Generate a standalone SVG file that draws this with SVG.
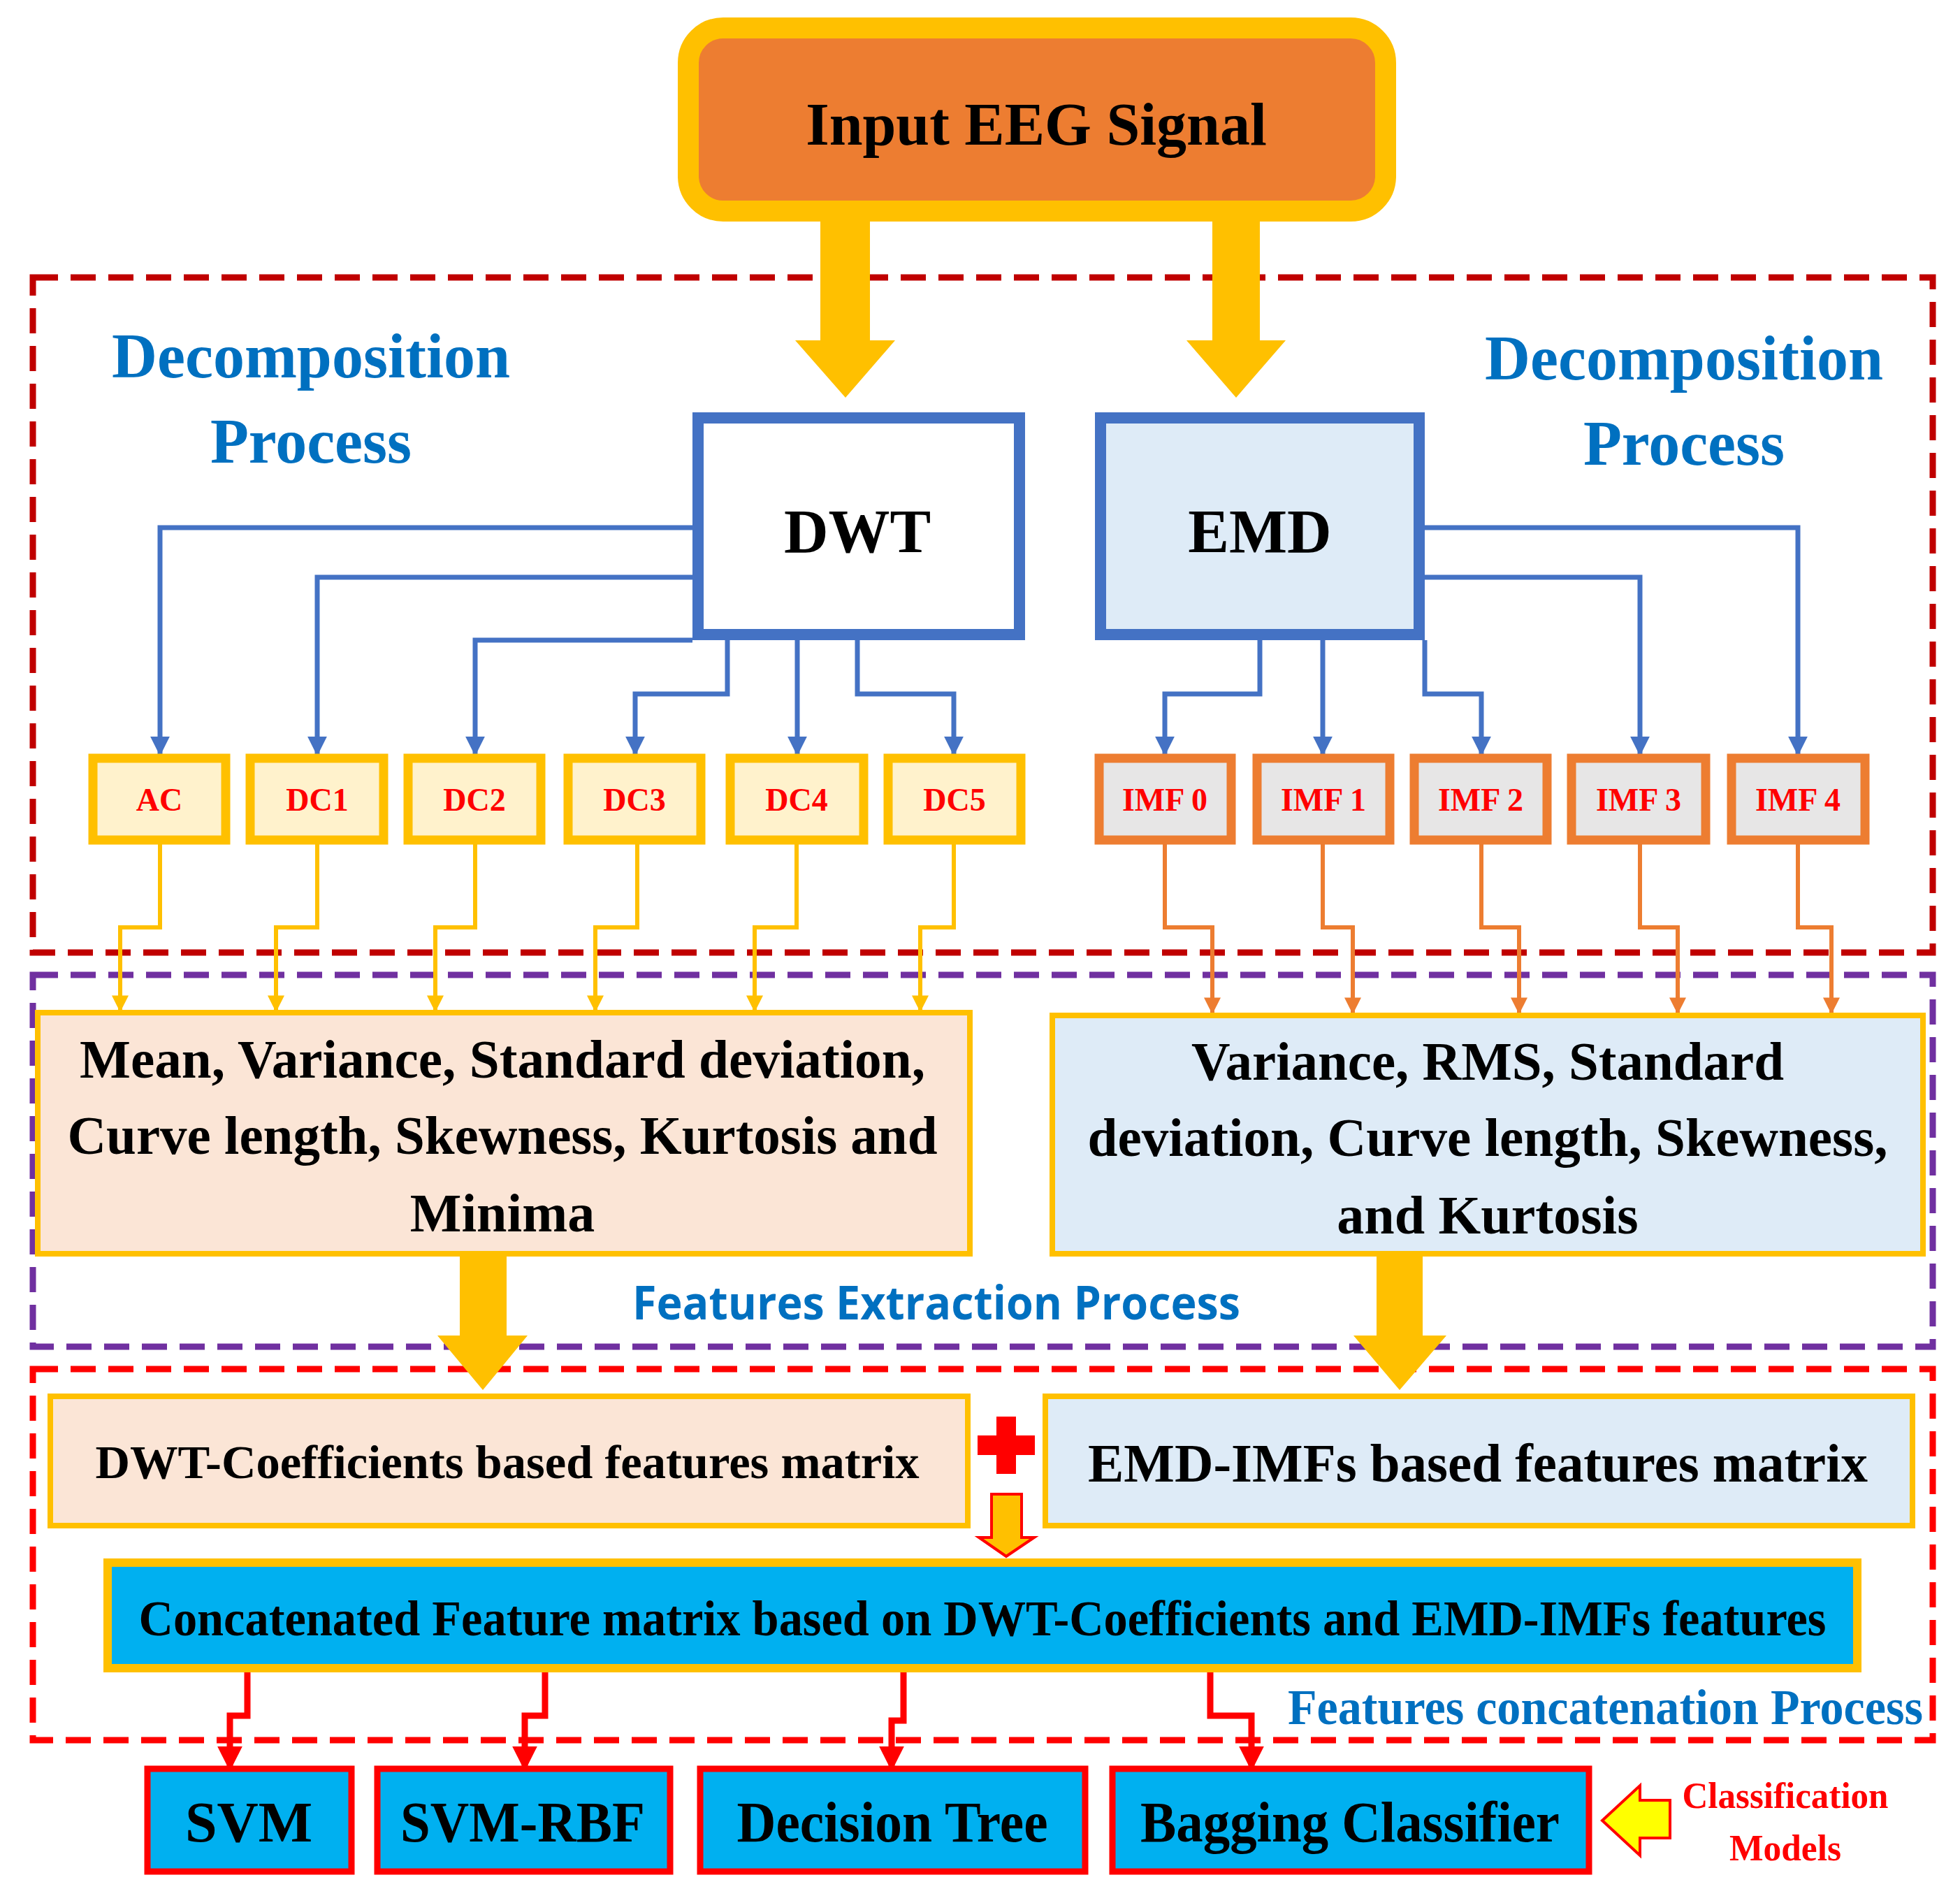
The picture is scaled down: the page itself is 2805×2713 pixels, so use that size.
<svg xmlns="http://www.w3.org/2000/svg" width="2805" height="2713" viewBox="0 0 2805 2713">
<defs>
<style>
.t{font-family:"Liberation Serif",serif;font-weight:bold;text-anchor:middle}
.blue{fill:none;stroke:#4472C4;stroke-width:7}
.ylw{fill:none;stroke:#FFC000;stroke-width:6}
.org{fill:none;stroke:#ED7D31;stroke-width:6}
.red{fill:none;stroke:#FF0000;stroke-width:9}
.dc{fill:#FFF2CC;stroke:#FFC000;stroke-width:13}
.imf{fill:#E7E6E6;stroke:#ED7D31;stroke-width:13}
.cls{fill:#00B0F0;stroke:#FF0000;stroke-width:9}
.lbl{font-size:46px;fill:#FF0000}
.big{fill:#FFC000}
</style>
<marker id="ab" viewBox="0 0 10 10" refX="9" refY="5" markerWidth="4" markerHeight="4" orient="auto"><path d="M0,0L10,5L0,10z" fill="#4472C4"/></marker>
<marker id="ay" viewBox="0 0 10 10" refX="9" refY="5" markerWidth="4" markerHeight="4" orient="auto"><path d="M0,0L10,5L0,10z" fill="#FFC000"/></marker>
<marker id="ao" viewBox="0 0 10 10" refX="9" refY="5" markerWidth="4" markerHeight="4" orient="auto"><path d="M0,0L10,5L0,10z" fill="#ED7D31"/></marker>
<marker id="ar" viewBox="0 0 10 10" refX="9" refY="5" markerWidth="4" markerHeight="4" orient="auto"><path d="M0,0L10,5L0,10z" fill="#FF0000"/></marker>
</defs>
<rect width="2805" height="2713" fill="#fff"/>

<g id="regions">
<rect x="47" y="397" width="2719" height="966" fill="none" stroke="#C00000" stroke-width="9" stroke-dasharray="36,18"/>
<rect x="47" y="1395" width="2719" height="532" fill="none" stroke="#7030A0" stroke-width="9" stroke-dasharray="36,18"/>
<rect x="47" y="1959" width="2719" height="531" fill="none" stroke="#FF0000" stroke-width="9" stroke-dasharray="36,18"/>
<text class="t" x="445" y="540" font-size="90" fill="#0070C0">Decomposition</text>
<text class="t" x="445" y="662" font-size="90" fill="#0070C0">Process</text>
<text class="t" x="2410" y="543" font-size="90" fill="#0070C0">Decomposition</text>
<text class="t" x="2410" y="665" font-size="90" fill="#0070C0">Process</text>
<text x="1340" y="1888" font-family="'Open Sans',sans-serif" font-weight="bold" font-size="66" fill="#0070C0" text-anchor="middle" textLength="870" lengthAdjust="spacingAndGlyphs">Features Extraction Process</text>
<text x="2752" y="2467" font-family="'Liberation Serif',serif" font-weight="bold" font-size="72" fill="#0070C0" text-anchor="end" textLength="909" lengthAdjust="spacingAndGlyphs">Features concatenation Process</text>
</g>

<g id="connectors">
<path class="big" d="M1174,317H1245V487H1281L1210,569L1138,487H1174Z"/>
<path class="big" d="M1735,317H1803V487H1840L1769,569L1698,487H1735Z"/>
<path class="big" d="M658,1794H725V1911H755L691,1989L626,1911H658Z"/>
<path class="big" d="M1970,1794H2036V1911H2070L2003,1989L1937,1911H1970Z"/>
<path d="M1419,2138H1462V2200H1480L1440,2227L1401,2200H1419Z" fill="#FFC000" stroke="#FF0000" stroke-width="4"/>
<path d="M2347,2576H2390V2630H2347V2655L2293,2605L2347,2555Z" fill="#FFFF00" stroke="#FF0000" stroke-width="4"/>

<path class="blue" marker-end="url(#ab)" d="M991,755H229V1079"/>
<path class="blue" marker-end="url(#ab)" d="M991,826H454V1079"/>
<path class="blue" marker-end="url(#ab)" d="M991,916H680V1079"/>
<path class="blue" marker-end="url(#ab)" d="M1041,916V993H909V1079"/>
<path class="blue" marker-end="url(#ab)" d="M1141,916V1079"/>
<path class="blue" marker-end="url(#ab)" d="M1227,916V993H1365V1079"/>
<path class="blue" marker-end="url(#ab)" d="M1803,916V993H1667V1079"/>
<path class="blue" marker-end="url(#ab)" d="M1893,916V1079"/>
<path class="blue" marker-end="url(#ab)" d="M2039,916V993H2120V1079"/>
<path class="blue" marker-end="url(#ab)" d="M2039,826H2347V1079"/>
<path class="blue" marker-end="url(#ab)" d="M2039,755H2573V1079"/>

<path class="ylw" marker-end="url(#ay)" d="M229,1208V1327H172V1446"/>
<path class="ylw" marker-end="url(#ay)" d="M454,1208V1327H395V1446"/>
<path class="ylw" marker-end="url(#ay)" d="M680,1208V1327H623V1446"/>
<path class="ylw" marker-end="url(#ay)" d="M912,1208V1327H852V1446"/>
<path class="ylw" marker-end="url(#ay)" d="M1140,1208V1327H1080V1446"/>
<path class="ylw" marker-end="url(#ay)" d="M1365,1208V1327H1317V1446"/>
<path class="org" marker-end="url(#ao)" d="M1667,1208V1327H1735V1449"/>
<path class="org" marker-end="url(#ao)" d="M1893,1208V1327H1936V1449"/>
<path class="org" marker-end="url(#ao)" d="M2120,1208V1327H2174V1449"/>
<path class="org" marker-end="url(#ao)" d="M2347,1208V1327H2401V1449"/>
<path class="org" marker-end="url(#ao)" d="M2573,1208V1327H2621V1449"/>

<path class="red" marker-end="url(#ar)" d="M354,2387V2455H329V2531"/>
<path class="red" marker-end="url(#ar)" d="M780,2387V2455H751V2531"/>
<path class="red" marker-end="url(#ar)" d="M1293,2387V2462H1276V2531"/>
<path class="red" marker-end="url(#ar)" d="M1732,2387V2455H1791V2531"/>
</g>

<g id="input">
<rect x="985" y="40" width="998" height="262" rx="50" fill="#ED7D31" stroke="#FFC000" stroke-width="30"/>
<text class="t" x="1483" y="207" font-size="86">Input EEG Signal</text>
</g>
<g id="dwt"><rect x="999" y="598" width="460" height="310" fill="#fff" stroke="#4472C4" stroke-width="16"/><text class="t" x="1227" y="790" font-size="88">DWT</text></g>
<g id="emd"><rect x="1575" y="598" width="456" height="310" fill="#DEEBF7" stroke="#4472C4" stroke-width="16"/><text class="t" x="1803" y="790" font-size="88">EMD</text></g>

<g id="ac"><rect class="dc" x="133" y="1085" width="190" height="117"/><text class="t lbl" x="228" y="1160">AC</text></g>
<g id="dc1"><rect class="dc" x="358" y="1085" width="191" height="117"/><text class="t lbl" x="454" y="1160">DC1</text></g>
<g id="dc2"><rect class="dc" x="584" y="1085" width="190" height="117"/><text class="t lbl" x="679" y="1160">DC2</text></g>
<g id="dc3"><rect class="dc" x="813" y="1085" width="190" height="117"/><text class="t lbl" x="908" y="1160">DC3</text></g>
<g id="dc4"><rect class="dc" x="1045" y="1085" width="191" height="117"/><text class="t lbl" x="1140" y="1160">DC4</text></g>
<g id="dc5"><rect class="dc" x="1271" y="1085" width="190" height="117"/><text class="t lbl" x="1366" y="1160">DC5</text></g>
<g id="imf0"><rect class="imf" x="1573" y="1085" width="189" height="117"/><text class="t lbl" x="1667" y="1160">IMF 0</text></g>
<g id="imf1"><rect class="imf" x="1799" y="1085" width="190" height="117"/><text class="t lbl" x="1894" y="1160">IMF 1</text></g>
<g id="imf2"><rect class="imf" x="2024" y="1085" width="190" height="117"/><text class="t lbl" x="2119" y="1160">IMF 2</text></g>
<g id="imf3"><rect class="imf" x="2249" y="1085" width="192" height="117"/><text class="t lbl" x="2345" y="1160">IMF 3</text></g>
<g id="imf4"><rect class="imf" x="2478" y="1085" width="191" height="117"/><text class="t lbl" x="2573" y="1160">IMF 4</text></g>

<g id="feat-dwt"><rect x="54" y="1449" width="1334" height="345" fill="#FBE5D6" stroke="#FFC000" stroke-width="8"/>
<text class="t" x="719" y="1542" font-size="78" textLength="1210" lengthAdjust="spacingAndGlyphs">Mean, Variance, Standard deviation,</text>
<text class="t" x="719" y="1651" font-size="78" textLength="1245" lengthAdjust="spacingAndGlyphs">Curve length, Skewness, Kurtosis and</text>
<text class="t" x="719" y="1762" font-size="78">Minima</text></g>
<g id="feat-emd"><rect x="1506" y="1453" width="1246" height="341" fill="#DEEBF7" stroke="#FFC000" stroke-width="8"/>
<text class="t" x="2129" y="1545" font-size="78" textLength="848" lengthAdjust="spacingAndGlyphs">Variance, RMS, Standard</text>
<text class="t" x="2129" y="1654" font-size="78" textLength="1145" lengthAdjust="spacingAndGlyphs">deviation, Curve length, Skewness,</text>
<text class="t" x="2129" y="1765" font-size="78">and Kurtosis</text></g>

<g id="mat-dwt"><rect x="72" y="1998" width="1313" height="185" fill="#FBE5D6" stroke="#FFC000" stroke-width="8"/><text class="t" x="726" y="2115" font-size="68" textLength="1179" lengthAdjust="spacingAndGlyphs">DWT-Coefficients based features matrix</text></g>
<g id="plus"><path d="M1426,2027H1454V2054H1481V2082H1454V2109H1426V2082H1399V2054H1426Z" fill="#FF0000"/></g>
<g id="mat-emd"><rect x="1496" y="1998" width="1241" height="185" fill="#DEEBF7" stroke="#FFC000" stroke-width="8"/><text class="t" x="2115" y="2120" font-size="78" textLength="1116" lengthAdjust="spacingAndGlyphs">EMD-IMFs based features matrix</text></g>
<g id="concat"><rect x="154" y="2236" width="2504" height="151" fill="#00B0F0" stroke="#FFC000" stroke-width="12"/><text class="t" x="1406" y="2340" font-size="72" textLength="2415" lengthAdjust="spacingAndGlyphs">Concatenated Feature matrix based on DWT-Coefficients and EMD-IMFs features</text></g>

<g id="svm"><rect class="cls" x="211" y="2531" width="292" height="147"/><text class="t" x="356" y="2635" font-size="82">SVM</text></g>
<g id="svmrbf"><rect class="cls" x="540" y="2531" width="419" height="147"/><text class="t" x="748" y="2635" font-size="82" textLength="350" lengthAdjust="spacingAndGlyphs">SVM-RBF</text></g>
<g id="dtree"><rect class="cls" x="1002" y="2531" width="551" height="147"/><text class="t" x="1277" y="2635" font-size="82" textLength="445" lengthAdjust="spacingAndGlyphs">Decision Tree</text></g>
<g id="bagging"><rect class="cls" x="1592" y="2531" width="682" height="147"/><text class="t" x="1932" y="2635" font-size="82" textLength="600" lengthAdjust="spacingAndGlyphs">Bagging Classifier</text></g>
<g id="models-label">
<text class="t" x="2555" y="2587" font-size="52" fill="#FF0000" textLength="295" lengthAdjust="spacingAndGlyphs">Classification</text>
<text class="t" x="2555" y="2662" font-size="52" fill="#FF0000" textLength="160" lengthAdjust="spacingAndGlyphs">Models</text>
</g>
</svg>
